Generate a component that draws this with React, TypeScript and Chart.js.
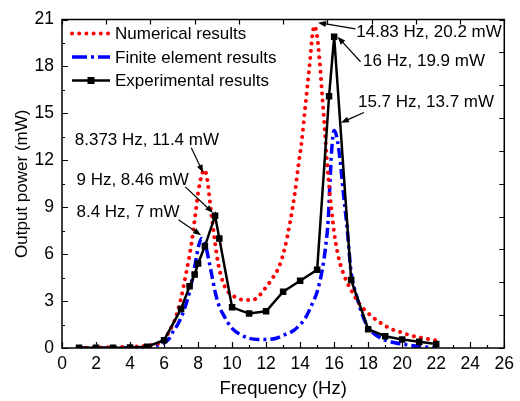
import React, { useEffect, useRef } from "react";
import { Chart, registerables } from "chart.js";

Chart.register(...registerables);

// Experimental results (black squares)
const expFreq = [1, 2, 3, 4, 5, 6, 7, 7.5, 7.8, 8, 8.4, 9, 9.25, 10, 11, 12, 13, 14, 15, 15.7, 16, 17, 18, 19, 20, 21, 22];
const expPower = [0.02, 0.02, 0.02, 0.03, 0.08, 0.5, 2.5, 3.95, 4.7, 5.4, 6.5, 8.46, 7.0, 2.6, 2.2, 2.35, 3.6, 4.3, 5.0, 16.1, 19.9, 4.35, 1.2, 0.75, 0.55, 0.4, 0.25];

// Numerical results (red dotted)
const numFreq = [1, 2, 3, 4, 4.5, 5, 5.5, 5.9, 6.3, 6.7, 7.0, 7.3, 7.6, 7.8, 8.0, 8.2, 8.37, 8.55, 8.7, 8.85, 9.0, 9.2, 9.5, 9.8, 10.2, 10.7, 11.2, 11.6, 12.0, 12.4, 12.8, 13.1, 13.4, 13.7, 13.9, 14.1, 14.3, 14.45, 14.6, 14.72, 14.84, 15.0, 15.15, 15.3, 15.46, 15.6, 15.75, 15.9, 16.05, 16.3, 16.6, 17.0, 17.5, 18.0, 18.5, 19.0, 19.5, 20.0, 20.5, 21.0, 21.5, 22.0];
const numPower = [0.02, 0.03, 0.05, 0.08, 0.1, 0.15, 0.25, 0.42, 1.05, 2.0, 3.2, 4.8, 6.6, 8.2, 9.9, 11.0, 11.4, 10.7, 9.3, 8.0, 6.7, 5.3, 4.1, 3.55, 3.25, 3.07, 3.07, 3.35, 3.9, 4.5, 5.3, 6.4, 8.0, 10.0, 11.7, 13.3, 15.4, 17.0, 18.6, 20.0, 20.6, 19.9, 18.3, 16.1, 13.8, 11.6, 9.8, 8.3, 7.0, 5.6, 4.6, 3.7, 2.8, 2.22, 1.78, 1.42, 1.15, 0.98, 0.8, 0.68, 0.58, 0.48];

// Finite element results (blue dash-dot)
const feFreq = [1, 2, 3, 4, 5, 5.5, 6.0, 6.3, 6.5, 6.85, 7.2, 7.5, 7.7, 7.9, 8.05, 8.2, 8.35, 8.5, 8.65, 8.8, 9.0, 9.2, 9.5, 10.0, 10.5, 11.0, 11.5, 12.0, 12.6, 13.1, 13.6, 14.0, 14.3, 14.7, 15.0, 15.3, 15.5, 15.65, 15.75, 15.85, 16.0, 16.15, 16.35, 16.55, 16.75, 17.0, 17.3, 17.6, 18.0, 18.5, 19.0, 19.5, 20.0, 21.0, 22.0];
const fePower = [0, 0, 0.01, 0.02, 0.05, 0.15, 0.35, 0.6, 1.0, 1.6, 2.5, 3.6, 4.6, 5.8, 6.6, 7.0, 6.8, 6.3, 5.5, 4.7, 3.6, 2.8, 2.1, 1.25, 0.85, 0.62, 0.55, 0.55, 0.62, 0.85, 1.1, 1.5, 1.9, 2.8, 3.6, 5.0, 6.5, 8.2, 10.5, 12.6, 13.9, 13.5, 12.0, 9.8, 7.8, 4.8, 3.4, 2.3, 1.3, 0.8, 0.5, 0.35, 0.25, 0.1, 0.02];

const xTicks = [0, 2, 4, 6, 8, 10, 12, 14, 16, 18, 20, 22, 24, 26];
const yTicks = [0, 3, 6, 9, 12, 15, 18, 21];

const seriesLabels = ["Numerical results", "Finite element results", "Experimental results"];
const xTitle = "Frequency (Hz)";
const yTitle = "Output power (mW)";

// Annotations: text, text anchor (data units), arrow tail, arrow tip (data units)
const annotTexts = ["14.83 Hz, 20.2 mW", "16 Hz, 19.9 mW", "15.7 Hz, 13.7 mW", "8.373 Hz, 11.4 mW", "9 Hz, 8.46 mW", "8.4 Hz, 7 mW"];
const annotTextAt = [[17.3, 20.2], [17.7, 18.3], [17.4, 15.7], [0.75, 13.3], [0.85, 10.75], [0.85, 8.65]];
const annotTail = [[17.25, 20.4], [17.55, 18.3], [17.75, 15.05], [7.6, 12.8], [7.25, 10.3], [6.85, 8.2]];
const annotTip = [[15.05, 20.8], [16.2, 19.9], [16.4, 14.4], [8.3, 11.2], [8.88, 8.64], [8.18, 7.2]];

const FONT = "'Liberation Sans', Arial, sans-serif";
const RED_DASH = [0.001, 7.2];
const BLUE_DASH = [10, 4, 3, 4];

const framePlugin = {
  id: "frameAndNotes",
  afterDraw(chart: any) {
    const ctx = chart.ctx;
    const xs = chart.scales.x;
    const ys = chart.scales.y;
    const a = chart.chartArea;
    ctx.save();
    ctx.strokeStyle = "#000";
    ctx.lineWidth = 1.5;
    ctx.setLineDash([]);
    ctx.strokeRect(a.left, a.top, a.right - a.left, a.bottom - a.top);
    ctx.lineWidth = 1.2;
    ctx.beginPath();
    for (let v = 0; v <= 26; v += 1) {
      const px = Math.round(xs.getPixelForValue(v)) + 0.5;
      const len = v % 2 === 0 ? 6 : 3;
      ctx.moveTo(px, a.bottom);
      ctx.lineTo(px, a.bottom - len);
    }
    for (let k = 0; k <= 14; k++) {
      const v = k * 1.5;
      const py = Math.round(ys.getPixelForValue(v)) + 0.5;
      const len = k % 2 === 0 ? 6 : 3;
      ctx.moveTo(a.left, py);
      ctx.lineTo(a.left + len, py);
    }
    for (let k = 0; k <= 10; k++) {
      const px = Math.round(xs.getPixelForValue(2.6 * k)) + 0.5;
      ctx.moveTo(px, a.top);
      ctx.lineTo(px, a.top + 5);
    }
    for (let k = 0; k <= 10; k++) {
      const py = Math.round(ys.getPixelForValue(2.1 * k)) + 0.5;
      ctx.moveTo(a.right, py);
      ctx.lineTo(a.right - 5, py);
    }
    ctx.stroke();

    // legend
    ctx.font = `17px ${FONT}`;
    ctx.textBaseline = "middle";
    ctx.textAlign = "left";
    ctx.fillStyle = "#000";
    const lx0 = a.left + 10;
    const lx1 = a.left + 48;
    for (let i = 0; i < seriesLabels.length; i++) {
      const ly = a.top + 14 + i * 23.5;
      ctx.beginPath();
      if (i === 0) {
        ctx.strokeStyle = "#ff0000";
        ctx.lineWidth = 4;
        ctx.lineCap = "round";
        ctx.setLineDash(RED_DASH);
      } else if (i === 1) {
        ctx.strokeStyle = "#0000ff";
        ctx.lineWidth = 3.5;
        ctx.lineCap = "butt";
        ctx.setLineDash([15, 4, 3, 4]);
      } else {
        ctx.strokeStyle = "#000";
        ctx.lineWidth = 2.5;
        ctx.lineCap = "butt";
        ctx.setLineDash([]);
      }
      ctx.moveTo(lx0, ly);
      ctx.lineTo(lx1, ly);
      ctx.stroke();
      ctx.setLineDash([]);
      if (i === 2) {
        ctx.fillStyle = "#000";
        ctx.fillRect((lx0 + lx1) / 2 - 3.5, ly - 3.5, 7, 7);
      }
      ctx.fillStyle = "#000";
      ctx.fillText(seriesLabels[i], lx1 + 5, ly + 1);
    }

    // annotations
    ctx.font = `17px ${FONT}`;
    ctx.lineCap = "butt";
    for (let i = 0; i < annotTexts.length; i++) {
      const tx = xs.getPixelForValue(annotTextAt[i][0]);
      const ty = ys.getPixelForValue(annotTextAt[i][1]);
      ctx.fillStyle = "#000";
      ctx.fillText(annotTexts[i], tx, ty);
      const x0 = xs.getPixelForValue(annotTail[i][0]);
      const y0 = ys.getPixelForValue(annotTail[i][1]);
      const x1 = xs.getPixelForValue(annotTip[i][0]);
      const y1 = ys.getPixelForValue(annotTip[i][1]);
      const ang = Math.atan2(y1 - y0, x1 - x0);
      const hl = 8, hw = 3;
      ctx.strokeStyle = "#000";
      ctx.lineWidth = 1.2;
      ctx.beginPath();
      ctx.moveTo(x0, y0);
      ctx.lineTo(x1 - Math.cos(ang) * hl * 0.8, y1 - Math.sin(ang) * hl * 0.8);
      ctx.stroke();
      ctx.beginPath();
      ctx.moveTo(x1, y1);
      ctx.lineTo(x1 - Math.cos(ang) * hl - Math.sin(ang) * hw, y1 - Math.sin(ang) * hl + Math.cos(ang) * hw);
      ctx.lineTo(x1 - Math.cos(ang) * hl + Math.sin(ang) * hw, y1 - Math.sin(ang) * hl - Math.cos(ang) * hw);
      ctx.closePath();
      ctx.fill();
    }
    ctx.restore();
  },
};

export default function App() {
  const canvasRef = useRef<HTMLCanvasElement | null>(null);

  useEffect(() => {
    if (!canvasRef.current) return;
    const toPts = (xs: number[], ys: number[]) => xs.map((x, i) => ({ x, y: ys[i] }));
    const chart = new Chart(canvasRef.current, {
      type: "line",
      data: {
        datasets: [
          {
            label: seriesLabels[2],
            data: toPts(expFreq, expPower),
            borderColor: "#000",
            backgroundColor: "#000",
            borderWidth: 2.5,
            pointStyle: "rect",
            pointRadius: 4.6,
            pointBorderWidth: 0,
            pointBackgroundColor: "#000",
            tension: 0,
            order: 0,
          },
          {
            label: seriesLabels[0],
            data: toPts(numFreq, numPower),
            borderColor: "#ff0000",
            borderWidth: 4,
            borderDash: RED_DASH,
            borderCapStyle: "round",
            pointRadius: 0,
            cubicInterpolationMode: "monotone",
            order: 1,
          },
          {
            label: seriesLabels[1],
            data: toPts(feFreq, fePower),
            borderColor: "#0000ff",
            borderWidth: 3.5,
            borderDash: BLUE_DASH,
            pointRadius: 0,
            cubicInterpolationMode: "monotone",
            order: 2,
          },
        ] as any,
      },
      options: {
        animation: false,
        responsive: false,
        devicePixelRatio: 1,
        layout: { padding: { top: 19.5, right: 10, left: 0, bottom: 0 } },
        plugins: { legend: { display: false }, tooltip: { enabled: false } },
        scales: {
          x: {
            type: "linear",
            min: 0,
            max: 26,
            afterBuildTicks: (s: any) => {
              s.ticks = xTicks.map((v) => ({ value: v }));
            },
            afterFit: (s: any) => {
              s.height = 53;
            },
            grid: { display: false, drawTicks: false },
            border: { display: false },
            ticks: { color: "#000", font: { family: FONT, size: 17.5 }, padding: 6, maxRotation: 0, autoSkip: false },
            title: { display: true, text: xTitle, color: "#000", font: { family: FONT, size: 18.5 }, padding: { top: 0, bottom: 1 } },
          },
          y: {
            type: "linear",
            min: 0,
            max: 21,
            afterBuildTicks: (s: any) => {
              s.ticks = yTicks.map((v) => ({ value: v }));
            },
            afterFit: (s: any) => {
              s.width = 62;
            },
            grid: { display: false, drawTicks: false },
            border: { display: false },
            ticks: { color: "#000", font: { family: FONT, size: 17.5 }, padding: 8, autoSkip: false },
            title: { display: true, text: yTitle, color: "#000", font: { family: FONT, size: 17 }, padding: { top: 12, bottom: 0 } },
          },
        },
      } as any,
      plugins: [framePlugin],
    });
    return () => chart.destroy();
  }, []);

  return (
    <div style={{ position: "fixed", left: 0, top: 0, width: 520, height: 401, background: "#fff" }}>
      <canvas ref={canvasRef} width={520} height={401} style={{ width: 520, height: 401, display: "block" }} />
    </div>
  );
}
